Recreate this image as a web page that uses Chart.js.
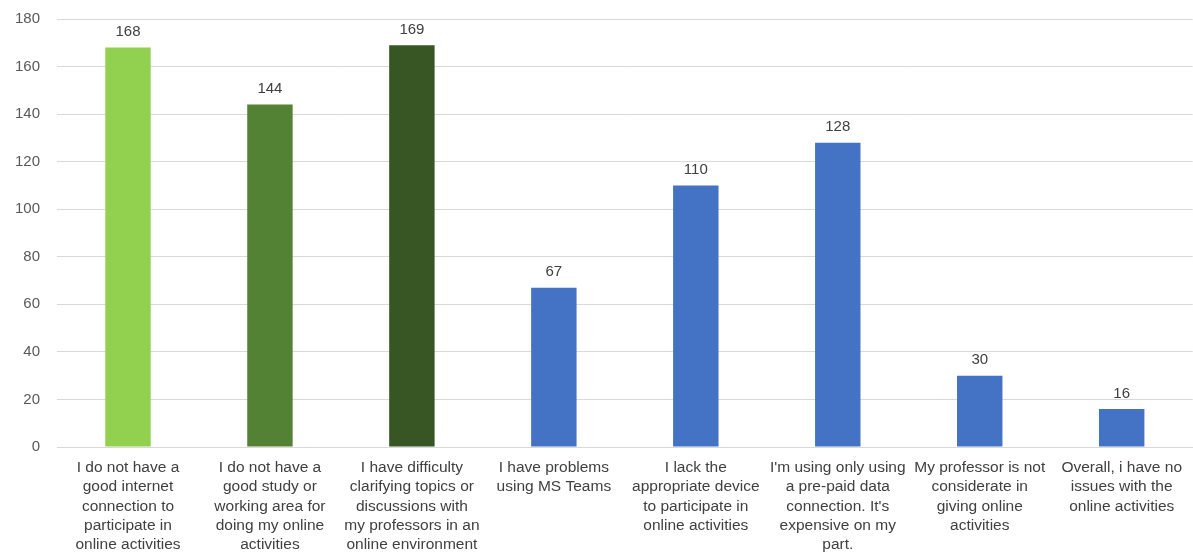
<!DOCTYPE html>
<html lang="en">
<head>
    <meta charset="UTF-8">
    <title>Online Activity Issues</title>
    <script src="https://cdn.jsdelivr.net/npm/chart.js"></script>
    <style>
        html, body { margin: 0; padding: 0; background: #ffffff; }
        .chart-container { position: relative; width: 1193px; height: 555px; }
    </style>
</head>
<body>
    <div class="chart-container">
        <canvas id="issuesChart"></canvas>
    </div>

    <script>
        // Data
        const categories = [
            ['I do not have a', 'good internet', 'connection to', 'participate in', 'online activities'],
            ['I do not have a', 'good study or', 'working area for', 'doing my online', 'activities'],
            ['I have difficulty', 'clarifying topics or', 'discussions with', 'my professors in an', 'online environment'],
            ['I have problems', 'using MS Teams'],
            ['I lack the', 'appropriate device', 'to participate in', 'online activities'],
            ["I'm using only using", 'a pre-paid data', "connection. It's", 'expensive on my', 'part.'],
            ['My professor is not', 'considerate in', 'giving online', 'activities'],
            ['Overall, i have no', 'issues with the', 'online activities']
        ];
        const responses = [168, 144, 169, 67, 110, 128, 30, 16];
        const barColors = ['#92D050', '#548235', '#375623', '#4472C4', '#4472C4', '#4472C4', '#4472C4', '#4472C4'];

        // Value labels above each bar
        const valueLabels = {
            id: 'valueLabels',
            afterDatasetsDraw(chart) {
                const ctx = chart.ctx;
                const meta = chart.getDatasetMeta(0);
                ctx.save();
                ctx.font = '15px "Liberation Sans", sans-serif';
                ctx.fillStyle = '#404040';
                ctx.textAlign = 'center';
                ctx.textBaseline = 'bottom';
                meta.data.forEach((bar, i) => {
                    ctx.fillText(responses[i], bar.x, bar.y - 8);
                });
                ctx.restore();
            }
        };

        new Chart(document.getElementById('issuesChart'), {
            type: 'bar',
            data: {
                labels: categories,
                datasets: [{
                    data: responses,
                    backgroundColor: barColors,
                    categoryPercentage: 1.0,
                    barPercentage: 0.32
                }]
            },
            options: {
                responsive: true,
                maintainAspectRatio: false,
                animation: false,
                layout: { padding: { top: 19, right: 0, bottom: 0, left: 0 } },
                plugins: {
                    legend: { display: false },
                    tooltip: { enabled: false }
                },
                scales: {
                    x: {
                        grid: { display: false, drawTicks: false },
                        border: { color: '#d9d9d9' },
                        ticks: {
                            color: '#404040',
                            font: { family: '"Liberation Sans Narrow", sans-serif', size: 15.5, lineHeight: 1.25 },
                            maxRotation: 0,
                            autoSkip: false,
                            padding: 11
                        },
                        afterFit(scale) { scale.height = 108; }
                    },
                    y: {
                        min: 0,
                        max: 180,
                        ticks: {
                            stepSize: 20,
                            color: '#595959',
                            font: { family: '"Liberation Sans", sans-serif', size: 15 },
                            padding: 17
                        },
                        grid: { color: '#d9d9d9', drawTicks: false },
                        border: { display: false },
                        afterFit(scale) {
                            scale.width = 57;
                            scale.paddingTop = 0;
                            scale.paddingBottom = 0;
                        }
                    }
                }
            },
            plugins: [valueLabels]
        });
    </script>
</body>
</html>
